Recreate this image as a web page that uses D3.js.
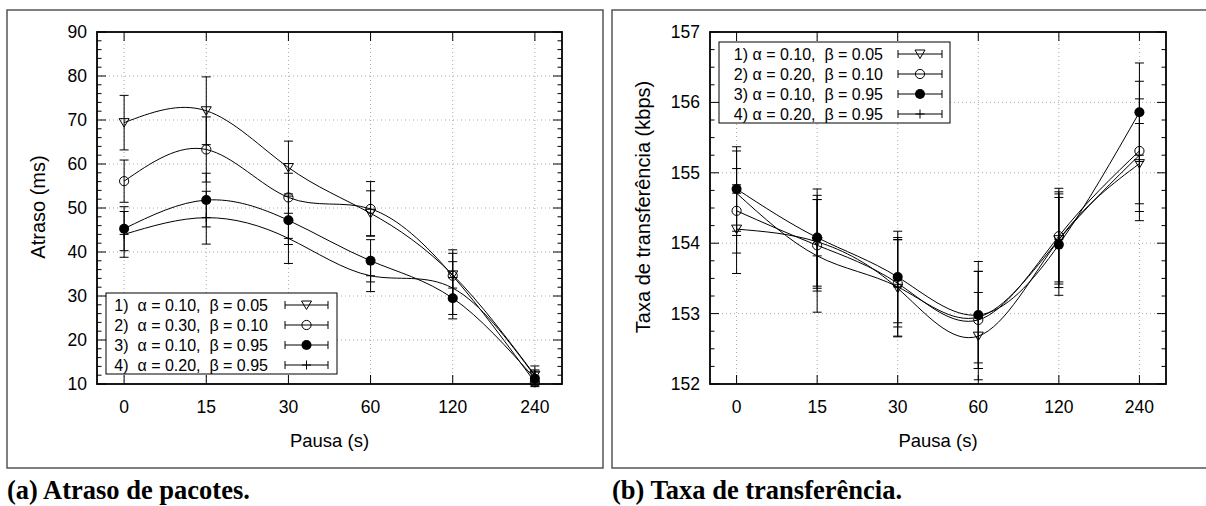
<!DOCTYPE html>
<html>
<head>
<meta charset="utf-8">
<script src="https://cdn.jsdelivr.net/npm/d3@7"></script>
<style>
  body { margin: 0; background: #fff; }
  svg text { font-family: "Liberation Sans", Arial, sans-serif; fill: #000; }
  .caption { font-family: "Liberation Serif", "Times New Roman", serif; font-weight: bold; }
  .key text { white-space: pre; }
</style>
</head>
<body>
<svg id="chart" width="1206" height="506"></svg>
<script>
// --- Data ---
const pausas = ["0", "15", "30", "60", "120", "240"];
const markerTypes = ["triangle", "circle", "dot", "plus"];

// (a) Atraso de pacotes (ms)
const atrasoLabels = ["1)  α = 0.10,  β = 0.05", "2)  α = 0.30,  β = 0.10", "3)  α = 0.10,  β = 0.95", "4)  α = 0.20,  β = 0.95"];
const atraso1 = [69.4, 72.1, 59.2, 48.8, 34.8, 12.0];
const atraso1Err = [6.2, 7.7, 6.0, 5.1, 5.7, 2.1];
const atraso2 = [56.1, 63.3, 52.4, 49.8, 34.6, 10.4];
const atraso2Err = [4.8, 7.4, 5.5, 6.2, 5.1, 1.0];
const atraso3 = [45.3, 51.8, 47.2, 38.0, 29.5, 11.2];
const atraso3Err = [5.0, 6.1, 5.5, 4.8, 4.7, 1.5];
const atraso4 = [44.0, 47.8, 43.1, 34.6, 31.8, 11.8];
const atraso4Err = [5.2, 6.0, 5.7, 3.6, 6.0, 1.4];
const atrasoTicks = [10, 20, 30, 40, 50, 60, 70, 80, 90];

// (b) Taxa de transferência (kbps)
const taxaLabels = ["1) α = 0.10,  β = 0.05", "2) α = 0.20,  β = 0.10", "3) α = 0.10,  β = 0.95", "4) α = 0.20,  β = 0.95"];
const taxa1 = [154.20, 154.02, 153.36, 152.68, 154.05, 155.13];
const taxa1Err = [0.63, 0.66, 0.69, 0.62, 0.60, 0.57];
const taxa2 = [154.46, 153.97, 153.43, 152.91, 154.10, 155.31];
const taxa2Err = [0.60, 0.65, 0.62, 0.69, 0.68, 0.99];
const taxa3 = [154.77, 154.08, 153.52, 152.98, 153.98, 155.86];
const taxa3Err = [0.60, 0.69, 0.65, 0.76, 0.72, 0.70];
const taxa4 = [154.71, 153.82, 153.38, 152.95, 154.05, 155.25];
const taxa4Err = [0.60, 0.80, 0.70, 0.65, 0.68, 0.80];
const taxaTicks = [152, 153, 154, 155, 156, 157];

const svg = d3.select("#chart");

// draw one gnuplot-style marker centred at (cx, cy)
function drawMarker(g, type, cx, cy) {
    if (type === "triangle") {
        g.append("path")
            .attr("d", `M${cx - 5},${cy - 4}L${cx + 5},${cy - 4}L${cx},${cy + 4.5}Z`)
            .attr("fill", "none").attr("stroke", "#000").attr("stroke-width", 1);
    } else if (type === "circle") {
        g.append("circle").attr("cx", cx).attr("cy", cy).attr("r", 4.6)
            .attr("fill", "none").attr("stroke", "#000").attr("stroke-width", 1);
    } else if (type === "dot") {
        g.append("circle").attr("cx", cx).attr("cy", cy).attr("r", 5)
            .attr("fill", "#000");
    } else {
        g.append("path")
            .attr("d", `M${cx - 4.5},${cy}H${cx + 4.5}M${cx},${cy - 4.5}V${cy + 4.5}`)
            .attr("stroke", "#000").attr("stroke-width", 1);
    }
}

function drawPanel(cfg) {
    const g = svg.append("g");

    // outer frame
    g.append("rect")
        .attr("x", cfg.box.x).attr("y", cfg.box.y)
        .attr("width", cfg.box.w).attr("height", cfg.box.h)
        .attr("fill", "none").attr("stroke", "#555").attr("stroke-width", 1.5);

    const x = d3.scaleLinear().domain([-0.33, 5.33]).range([cfg.plot.l, cfg.plot.r]);
    const y = d3.scaleLinear().domain(cfg.yDomain).range([cfg.plot.b, cfg.plot.t]);
    const idx = d3.range(pausas.length);

    // grid
    g.append("g").selectAll("line.gy").data(cfg.yTicks.slice(1, -1)).join("line")
        .attr("x1", cfg.plot.l).attr("x2", cfg.plot.r)
        .attr("y1", d => y(d)).attr("y2", d => y(d))
        .attr("stroke", "#aaa").attr("stroke-width", 1).attr("stroke-dasharray", "1,3");
    g.append("g").selectAll("line.gx").data(idx).join("line")
        .attr("x1", d => x(d)).attr("x2", d => x(d))
        .attr("y1", cfg.plot.t).attr("y2", cfg.plot.b)
        .attr("stroke", "#aaa").attr("stroke-width", 1).attr("stroke-dasharray", "1,3");

    // ticks (inward, mirrored)
    const minor = d3.range(cfg.yDomain[0], cfg.yDomain[1] + 1e-9, cfg.minorStep);
    const tickG = g.append("g").attr("stroke", "#000").attr("stroke-width", 1);
    minor.forEach(v => {
        const major = cfg.yTicks.some(t => Math.abs(t - v) < 1e-9);
        const len = major ? 9 : 4.5;
        tickG.append("line").attr("x1", cfg.plot.l).attr("x2", cfg.plot.l + len)
            .attr("y1", y(v)).attr("y2", y(v));
        tickG.append("line").attr("x1", cfg.plot.r).attr("x2", cfg.plot.r - len)
            .attr("y1", y(v)).attr("y2", y(v));
    });
    idx.forEach(i => {
        tickG.append("line").attr("x1", x(i)).attr("x2", x(i))
            .attr("y1", cfg.plot.b).attr("y2", cfg.plot.b - 9);
        tickG.append("line").attr("x1", x(i)).attr("x2", x(i))
            .attr("y1", cfg.plot.t).attr("y2", cfg.plot.t + 9);
    });

    // tick labels
    g.append("g").selectAll("text").data(cfg.yTicks).join("text")
        .attr("x", cfg.plot.l - 10).attr("y", d => y(d) + 6)
        .attr("text-anchor", "end").attr("font-size", 17.5)
        .text(d => d);
    g.append("g").selectAll("text").data(idx).join("text")
        .attr("x", d => x(d)).attr("y", cfg.plot.b + 29)
        .attr("text-anchor", "middle").attr("font-size", 17.5)
        .text(d => pausas[d]);

    // axis titles
    g.append("text")
        .attr("x", (cfg.plot.l + cfg.plot.r) / 2).attr("y", cfg.plot.b + 63)
        .attr("text-anchor", "middle").attr("font-size", 18.5)
        .text("Pausa (s)");
    g.append("text")
        .attr("transform", `translate(${cfg.yLabelX},${cfg.yLabelY}) rotate(-90)`)
        .attr("text-anchor", "middle").attr("font-size", 20)
        .text(cfg.yLabel);

    // series: error bars, smooth curves, markers
    const line = d3.line()
        .x((d, i) => x(i))
        .y(d => y(d))
        .curve(d3.curveNatural);

    cfg.series.forEach((s, k) => {
        const sg = g.append("g");
        s.values.forEach((v, i) => {
            const lo = y(v - s.err[i]), hi = y(v + s.err[i]), cx = x(i);
            sg.append("path")
                .attr("d", `M${cx},${lo}V${hi}M${cx - 4.5},${lo}H${cx + 4.5}M${cx - 4.5},${hi}H${cx + 4.5}`)
                .attr("stroke", "#000").attr("stroke-width", 1).attr("fill", "none");
        });
        sg.append("path")
            .datum(s.values)
            .attr("d", line)
            .attr("fill", "none").attr("stroke", "#000").attr("stroke-width", 1);
        s.values.forEach((v, i) => drawMarker(sg, markerTypes[k], x(i), y(v)));
    });

    // border of plot
    g.append("rect")
        .attr("x", cfg.plot.l).attr("y", cfg.plot.t)
        .attr("width", cfg.plot.r - cfg.plot.l).attr("height", cfg.plot.b - cfg.plot.t)
        .attr("fill", "none").attr("stroke", "#000").attr("stroke-width", 1.8);

    // key
    const key = g.append("g").attr("class", "key");
    const k = cfg.key;
    key.append("rect")
        .attr("x", k.x).attr("y", k.y).attr("width", k.w).attr("height", k.h)
        .attr("fill", "#fff").attr("stroke", "#000").attr("stroke-width", 1);
    cfg.series.forEach((s, i) => {
        const ry = k.y + 12 + i * 20;
        key.append("text")
            .attr("x", k.textEnd).attr("y", ry + 6)
            .attr("text-anchor", "end").attr("font-size", 16)
            .text(s.label);
        key.append("path")
            .attr("d", `M${k.s0},${ry}H${k.s1}M${k.s0},${ry - 4}V${ry + 4}M${k.s1},${ry - 4}V${ry + 4}`)
            .attr("stroke", "#000").attr("stroke-width", 1);
        drawMarker(key, markerTypes[i], (k.s0 + k.s1) / 2, ry);
    });

    // caption
    g.append("text")
        .attr("class", "caption")
        .attr("x", cfg.box.x).attr("y", 499)
        .attr("font-size", 26.5)
        .text(cfg.caption);
}

drawPanel({
    box: { x: 7, y: 10, w: 596, h: 458 },
    plot: { l: 97, t: 32, r: 562, b: 384 },
    yDomain: [10, 90], yTicks: atrasoTicks, minorStep: 2,
    yLabel: "Atraso (ms)", yLabelX: 45, yLabelY: 207,
    key: { x: 106, y: 293, w: 231, h: 81, textEnd: 268, s0: 285, s1: 328 },
    caption: "(a) Atraso de pacotes.",
    series: [
        { label: atrasoLabels[0], values: atraso1, err: atraso1Err },
        { label: atrasoLabels[1], values: atraso2, err: atraso2Err },
        { label: atrasoLabels[2], values: atraso3, err: atraso3Err },
        { label: atrasoLabels[3], values: atraso4, err: atraso4Err }
    ]
});

drawPanel({
    box: { x: 612, y: 10, w: 610, h: 458 },
    plot: { l: 710, t: 32, r: 1166, b: 384 },
    yDomain: [152, 157], yTicks: taxaTicks, minorStep: 0.25,
    yLabel: "Taxa de transferência (kbps)", yLabelX: 650, yLabelY: 207,
    key: { x: 719, y: 42, w: 231, h: 81, textEnd: 883, s0: 898, s1: 942 },
    caption: "(b) Taxa de transferência.",
    series: [
        { label: taxaLabels[0], values: taxa1, err: taxa1Err },
        { label: taxaLabels[1], values: taxa2, err: taxa2Err },
        { label: taxaLabels[2], values: taxa3, err: taxa3Err },
        { label: taxaLabels[3], values: taxa4, err: taxa4Err }
    ]
});
</script>
</body>
</html>
